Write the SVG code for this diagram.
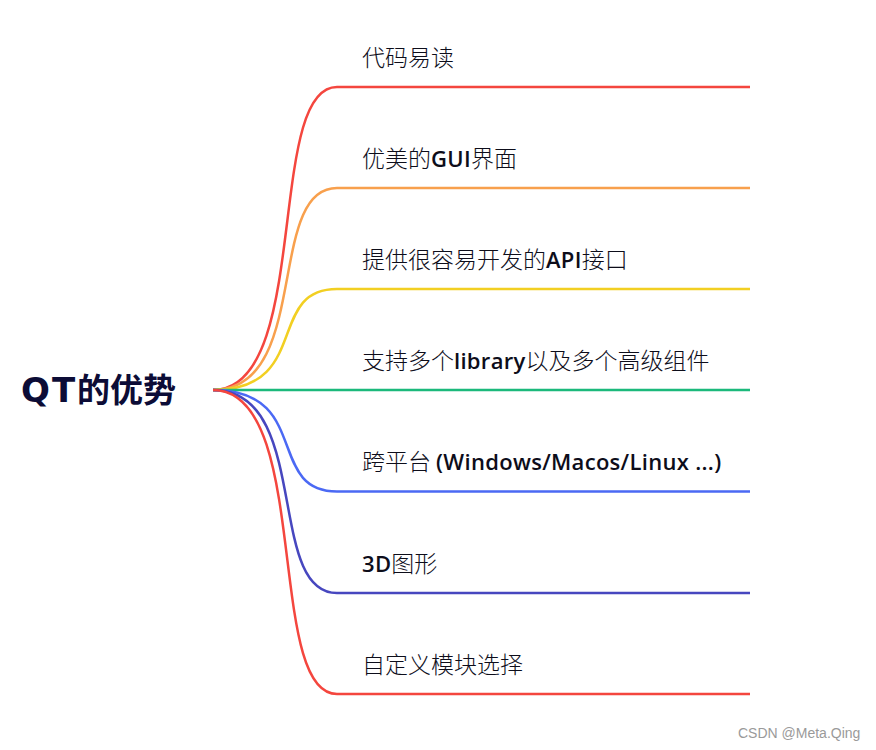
<svg xmlns="http://www.w3.org/2000/svg" width="876" height="750" viewBox="0 0 876 750">
<style>
.bg{fill:#ffffff}
.edge{fill:none;stroke-width:2.5;stroke-linecap:butt}
.lbl{font-family:"Noto Sans CJK SC","Noto Sans",sans-serif;font-size:23px;font-weight:300;fill:#0d0d1a}
.lat{font-family:"Open Sans","Noto Sans",sans-serif;font-weight:600;font-size:22px;letter-spacing:0.3px}
.root{font-family:"Noto Sans CJK SC",sans-serif;font-size:33px;font-weight:700;fill:#0c0c36}
.rootlat{font-family:"DejaVu Sans",sans-serif;font-size:34px;font-weight:700;letter-spacing:2px}
.wm{font-family:"Liberation Sans",Arial,sans-serif;font-size:14px;fill:#9a9a9a}
</style>
<rect class="bg" x="0" y="0" width="876" height="750"/>
<g id="connectors">
<path class="edge" stroke="#f4463e" d="M213,390 C312,390 265,87 337,87 H750"/>
<path class="edge" stroke="#f8a04d" d="M213,390 C312,390 265,188 337,188 H750"/>
<path class="edge" stroke="#f2cf22" d="M213,390 C312,390 265,289 337,289 H750"/>
<path class="edge" stroke="#1bb97b" d="M213,390 H750"/>
<path class="edge" stroke="#4b69f4" d="M213,390 C312,390 265,491.5 337,491.5 H750"/>
<path class="edge" stroke="#4747bf" d="M213,390 C312,390 265,593 337,593 H750"/>
<path class="edge" stroke="#f4463e" d="M213,390 C312,390 265,694 337,694 H750"/>
</g>
<g id="root">
<text class="root" x="21" y="402"><tspan class="rootlat">QT</tspan>的优势</text>
</g>
<g id="n1"><text class="lbl" x="362" y="66">代码易读</text></g>
<g id="n2"><text class="lbl" x="362" y="167">优美的<tspan class="lat">GUI</tspan>界面</text></g>
<g id="n3"><text class="lbl" x="362" y="268">提供很容易开发的<tspan class="lat">API</tspan>接口</text></g>
<g id="n4"><text class="lbl" x="362" y="369">支持多个<tspan class="lat">library</tspan>以及多个高级组件</text></g>
<g id="n5"><text class="lbl" x="362" y="470">跨平台 <tspan class="lat">(Windows/Macos/Linux ...)</tspan></text></g>
<g id="n6"><text class="lbl" x="362" y="572"><tspan class="lat">3D</tspan>图形</text></g>
<g id="n7"><text class="lbl" x="362" y="673">自定义模块选择</text></g>
<text class="wm" x="738" y="738">CSDN @Meta.Qing</text>
</svg>
